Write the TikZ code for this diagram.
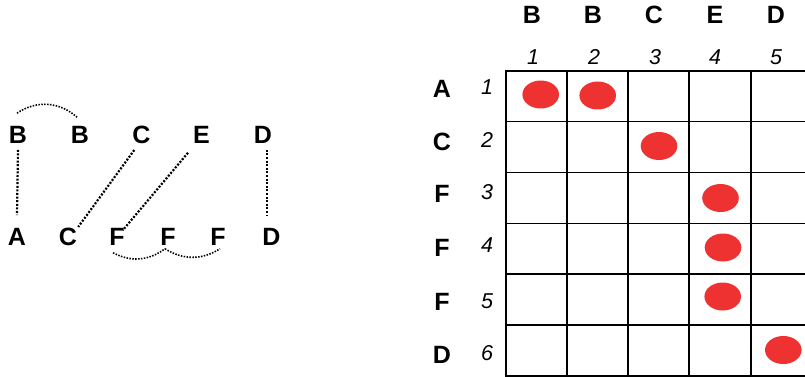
\documentclass[tikz,border=0pt]{standalone}
\usepackage{fontspec}
\setmainfont{Liberation Sans}
\definecolor{dotred}{RGB}{238,50,50}

\tikzset{
  letter/.style={font=\fontsize{25}{26}\selectfont\bfseries, inner sep=0pt},
  num/.style={font=\fontsize{21.5}{22}\selectfont\itshape, inner sep=0pt},
  link/.style={line width=2.2pt, dash pattern=on 2pt off 1.6pt},
  loop/.style={line width=1.6pt, dash pattern=on 1.5pt off 1.4pt},
  cell/.style={line width=1.8pt},
  hit/.style={fill=dotred}
}

\begin{document}
\begin{tikzpicture}[x=1pt,y=-1pt]
\useasboundingbox (0,0) rectangle (805,377);
% left: the two strings
\node[letter] (t1) at (18,135) {B};
\node[letter] (t2) at (80,135) {B};
\node[letter] (t3) at (141.5,135) {C};
\node[letter] (t4) at (201.5,135) {E};
\node[letter] (t5) at (263,135) {D};
\node[letter] (b1) at (17,237) {A};
\node[letter] (b2) at (68,237) {C};
\node[letter] (b3) at (117,237) {F};
\node[letter] (b4) at (168,237) {F};
\node[letter] (b5) at (218,237) {F};
\node[letter] (b6) at (271.5,237) {D};
\draw[link] ([yshift=-6pt]t1.south) -- ([yshift=13pt]b1.north);
\draw[link] ([xshift=2pt,yshift=-6pt]t3.south west) -- ([xshift=1pt,yshift=1pt]b2.north east);
\draw[link] ([xshift=-5pt,yshift=-9pt]t4.south west) -- ([xshift=-2pt,yshift=-2pt]b3.north east);
\draw[link] ([xshift=4pt,yshift=-6pt]t5.south) -- ([xshift=-4.5pt,yshift=13pt]b6.north);
\draw[loop] ([xshift=-1pt,yshift=13pt]t1.north) to[bend left=38] ([xshift=-3pt,yshift=9pt]t2.north);
\draw[loop] ([xshift=-4pt,yshift=-7pt]b3.south) to[bend right=32] ([xshift=-3pt,yshift=-3pt]b4.south);
\draw[loop] ([xshift=-3pt,yshift=-3pt]b4.south) to[bend right=32] ([xshift=2pt,yshift=-3pt]b5.south);
% right: the matrix
\node[letter] (c1) at (532,15) {B};
\node[letter] (c2) at (593,15) {B};
\node[letter] (c3) at (654,15) {C};
\node[letter] (c4) at (715,15) {E};
\node[letter] (c5) at (776,15) {D};
\node[num] (n1) at (533,57) {1};
\node[num] (n2) at (594,57) {2};
\node[num] (n3) at (655,57) {3};
\node[num] (n4) at (715,57) {4};
\node[num] (n5) at (776,57) {5};
\node[letter] (r1) at (442,89) {A};
\node[letter] (r2) at (442,142) {C};
\node[letter] (r3) at (442,194) {F};
\node[letter] (r4) at (442,248) {F};
\node[letter] (r5) at (442,302) {F};
\node[letter] (r6) at (442,355) {D};
\node[num] (m1) at (487,87) {1};
\node[num] (m2) at (487,140) {2};
\node[num] (m3) at (487,192) {3};
\node[num] (m4) at (487,245) {4};
\node[num] (m5) at (487,301) {5};
\node[num] (m6) at (487,353) {6};
\draw[cell] (506,70.7)--(812,70.7);
\draw[cell] (506,121.6)--(812,121.6);
\draw[cell] (506,172.5)--(812,172.5);
\draw[cell] (506,223.4)--(812,223.4);
\draw[cell] (506,274.3)--(812,274.3);
\draw[cell] (506,325.2)--(812,325.2);
\draw[cell] (506,376)--(812,376);
\draw[cell] (506,69.8)--(506,376.9);
\draw[cell] (566.8,69.8)--(566.8,376.9);
\draw[cell] (628,69.8)--(628,376.9);
\draw[cell] (689.2,69.8)--(689.2,376.9);
\draw[cell] (750.6,69.8)--(750.6,376.9);
\fill[hit] (540.7,94.5) ellipse (18.3 and 14);
\fill[hit] (597.7,95.5) ellipse (18.3 and 14);
\fill[hit] (659,146) ellipse (18.3 and 14);
\fill[hit] (720.5,198) ellipse (18.3 and 14);
\fill[hit] (723,247.5) ellipse (18.3 and 14);
\fill[hit] (722.7,296.5) ellipse (18.3 and 14);
\fill[hit] (783.3,350) ellipse (18.3 and 14);
\end{tikzpicture}
\end{document}
